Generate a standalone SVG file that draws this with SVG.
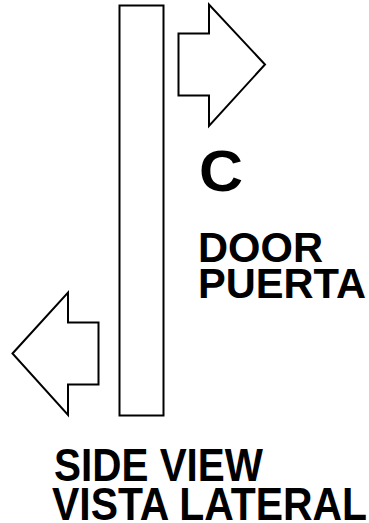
<svg xmlns="http://www.w3.org/2000/svg" width="369" height="523" viewBox="0 0 369 523">
<style>
.s{fill:#fff;stroke:#000;stroke-width:2;stroke-linejoin:miter}
.t{font-family:"Liberation Sans",Arial,sans-serif;font-weight:bold;fill:#000}
</style>
<rect width="369" height="523" fill="#fff"/>
<g id="door"><rect class="s" x="119.5" y="5.5" width="44" height="410"/></g>
<g id="arrow-right"><polygon class="s" points="178.5,33.5 209,33.5 209,4.5 265,64.5 209,126 209,95.5 178.5,95.5"/></g>
<g id="arrow-left"><polygon class="s" points="12.5,353.5 68,292.5 68,322.5 98.5,322.5 98.5,384.5 68,384.5 68,415"/></g>
<g id="labels">
<text class="t" x="199" y="191" font-size="57" textLength="44" lengthAdjust="spacingAndGlyphs">C</text>
<text class="t" x="198" y="262" font-size="42" textLength="125" lengthAdjust="spacingAndGlyphs">DOOR</text>
<text class="t" x="198" y="298" font-size="42" textLength="168" lengthAdjust="spacingAndGlyphs">PUERTA</text>
<text class="t" x="54" y="481" font-size="46" textLength="209" lengthAdjust="spacingAndGlyphs">SIDE VIEW</text>
<text class="t" x="52" y="520" font-size="46" textLength="315" lengthAdjust="spacingAndGlyphs">VISTA LATERAL</text>
</g>
</svg>
